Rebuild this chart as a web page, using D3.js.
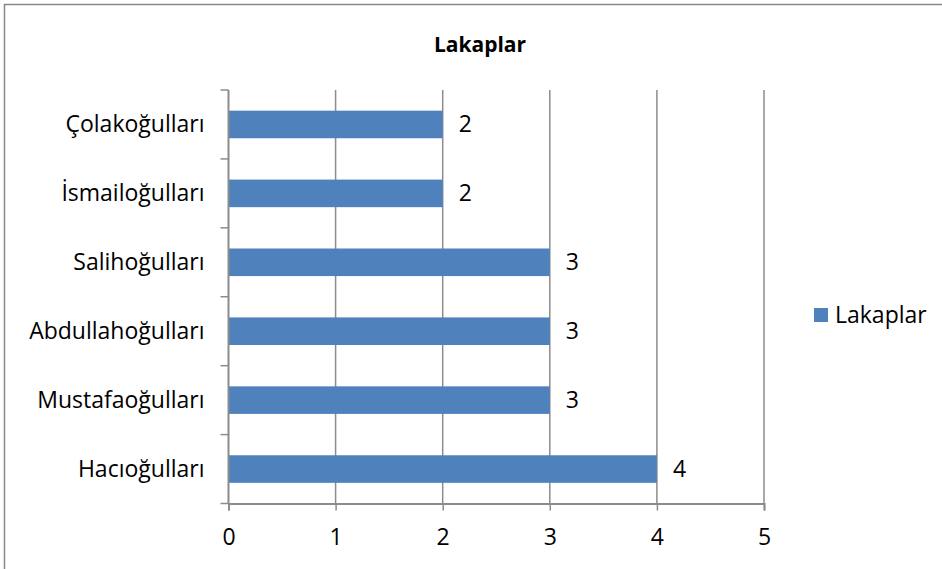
<!DOCTYPE html>
<html>
<head>
<meta charset="utf-8">
<script src="https://cdn.jsdelivr.net/npm/d3@7"></script>
<style>
body{margin:0;background:#fff;}
text{font-family:"Open Sans",Lato,sans-serif;fill:#000;}
</style>
</head>
<body>
<div id="chart"></div>
<script>
// data, top to bottom
var categories = ["Çolakoğulları","İsmailoğulları","Salihoğulları","Abdullahoğulları","Mustafaoğulları","Hacıoğulları"];
var values = [2,2,3,3,3,4];
var xTicks = [0,1,2,3,4,5];
var seriesName = "Lakaplar";

var W = 942, H = 569;
var plotLeft = 228.5, plotRight = 764, plotTop = 90, plotBottom = 503.5;
var fs = "23px";

var svg = d3.select("#chart").append("svg")
  .attr("width", W).attr("height", H);

// outer frame
svg.append("rect")
  .attr("x", 4.5).attr("y", 4.5)
  .attr("width", W + 10).attr("height", H + 10)
  .attr("fill", "none").attr("stroke", "#888").attr("stroke-width", 1.5);

svg.append("text")
  .attr("x", 480).attr("y", 52)
  .attr("text-anchor", "middle")
  .attr("font-size", "21px").attr("font-weight", "bold")
  .text("Lakaplar");

var x = d3.scaleLinear().domain([0,5]).range([plotLeft, plotRight]);
var y = d3.scaleBand().domain(categories).range([plotTop, plotBottom]).paddingInner(0.6).paddingOuter(0.3);

// vertical gridlines
svg.append("g").selectAll("line")
  .data(xTicks.slice(1))
  .enter().append("line")
  .attr("x1", d => x(d)).attr("x2", d => x(d))
  .attr("y1", plotTop).attr("y2", plotBottom)
  .attr("stroke", "#8c8c8c").attr("stroke-width", 1.5);

// bars
svg.append("g").selectAll("rect")
  .data(values)
  .enter().append("rect")
  .attr("x", x(0))
  .attr("y", (d,i) => y(categories[i]))
  .attr("width", d => x(d) - x(0))
  .attr("height", y.bandwidth())
  .attr("fill", "#4f81bd");

// value labels
svg.append("g").selectAll("text")
  .data(values)
  .enter().append("text")
  .attr("x", d => x(d) + 16)
  .attr("y", (d,i) => y(categories[i]) + y.bandwidth()/2 + 8)
  .attr("font-size", fs)
  .text(d => d);

// x axis
var xAxis = svg.append("g")
  .attr("transform", "translate(0," + plotBottom + ")")
  .call(d3.axisBottom(x).tickValues(xTicks).tickSize(7).tickPadding(18).tickFormat(d3.format("d")));
xAxis.select(".domain").attr("stroke", "#8c8c8c").attr("stroke-width", 2);
xAxis.selectAll(".tick line").attr("stroke", "#8c8c8c").attr("stroke-width", 1.5);
xAxis.selectAll("text").attr("font-size", fs).attr("font-family", "'Open Sans',Lato,sans-serif").attr("fill", "#000");

// y axis with ticks between categories
var yAxis = svg.append("g")
  .attr("transform", "translate(" + plotLeft + ",0)");
yAxis.append("line")
  .attr("x1", 0).attr("x2", 0).attr("y1", plotTop).attr("y2", plotBottom)
  .attr("stroke", "#8c8c8c").attr("stroke-width", 2);
var step = (plotBottom - plotTop) / categories.length;
yAxis.selectAll("line.tk")
  .data(d3.range(categories.length + 1))
  .enter().append("line").attr("class", "tk")
  .attr("x1", -8).attr("x2", 0)
  .attr("y1", i => plotTop + i * step).attr("y2", i => plotTop + i * step)
  .attr("stroke", "#8c8c8c").attr("stroke-width", 1.5);
yAxis.selectAll("text")
  .data(categories)
  .enter().append("text")
  .attr("x", -24)
  .attr("y", d => y(d) + y.bandwidth()/2 + 8)
  .attr("text-anchor", "end")
  .attr("font-size", fs)
  .text(d => d);

// legend
var lg = svg.append("g").attr("transform", "translate(814,308)");
lg.append("rect").attr("width", 14).attr("height", 14).attr("fill", "#4f81bd");
lg.append("text").attr("x", 21).attr("y", 15).attr("font-size", fs).text(seriesName);
</script>
</body>
</html>
